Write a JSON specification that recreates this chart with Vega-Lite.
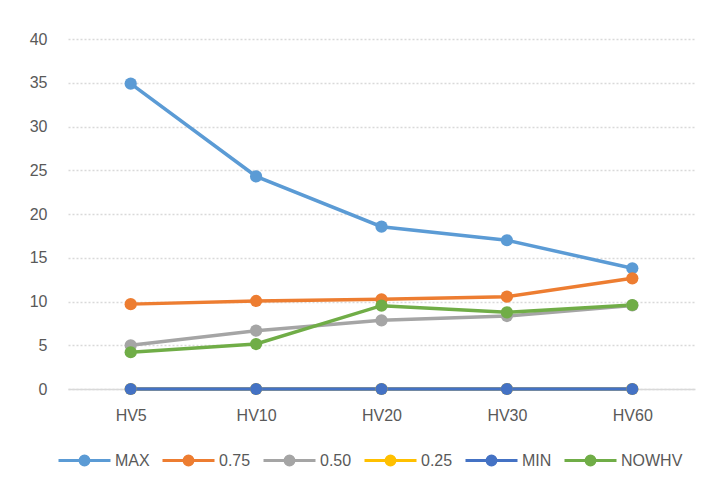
{
  "$schema": "https://vega.github.io/schema/vega-lite/v6.json",
  "autosize": "none",
  "width": 627,
  "height": 350,
  "padding": {"left": 68, "top": 39, "right": 23, "bottom": 100},
  "background": "white",
  "config": {
    "view": {"stroke": null},
    "font": "Liberation Sans"
  },
  "data": {
    "values": [
      {"series": "MAX", "cat": "HV5", "v": 34.9},
      {"series": "MAX", "cat": "HV10", "v": 24.3},
      {"series": "MAX", "cat": "HV20", "v": 18.55},
      {"series": "MAX", "cat": "HV30", "v": 17.0},
      {"series": "MAX", "cat": "HV60", "v": 13.8},
      {"series": "0.75", "cat": "HV5", "v": 9.7},
      {"series": "0.75", "cat": "HV10", "v": 10.06},
      {"series": "0.75", "cat": "HV20", "v": 10.25},
      {"series": "0.75", "cat": "HV30", "v": 10.55},
      {"series": "0.75", "cat": "HV60", "v": 12.65},
      {"series": "0.50", "cat": "HV5", "v": 5.0},
      {"series": "0.50", "cat": "HV10", "v": 6.67},
      {"series": "0.50", "cat": "HV20", "v": 7.85},
      {"series": "0.50", "cat": "HV30", "v": 8.34},
      {"series": "0.50", "cat": "HV60", "v": 9.55},
      {"series": "0.25", "cat": "HV5", "v": 0},
      {"series": "0.25", "cat": "HV10", "v": 0},
      {"series": "0.25", "cat": "HV20", "v": 0},
      {"series": "0.25", "cat": "HV30", "v": 0},
      {"series": "0.25", "cat": "HV60", "v": 0},
      {"series": "MIN", "cat": "HV5", "v": 0},
      {"series": "MIN", "cat": "HV10", "v": 0},
      {"series": "MIN", "cat": "HV20", "v": 0},
      {"series": "MIN", "cat": "HV30", "v": 0},
      {"series": "MIN", "cat": "HV60", "v": 0},
      {"series": "NOWHV", "cat": "HV5", "v": 4.2},
      {"series": "NOWHV", "cat": "HV10", "v": 5.14},
      {"series": "NOWHV", "cat": "HV20", "v": 9.52},
      {"series": "NOWHV", "cat": "HV30", "v": 8.76},
      {"series": "NOWHV", "cat": "HV60", "v": 9.6}
    ]
  },
  "mark": {
    "type": "line",
    "strokeWidth": 3.5,
    "point": {"filled": true, "size": 150, "opacity": 1}
  },
  "encoding": {
    "x": {
      "field": "cat",
      "type": "ordinal",
      "sort": ["HV5", "HV10", "HV20", "HV30", "HV60"],
      "scale": {"type": "point", "padding": 0.5},
      "axis": {
        "title": null,
        "labelAngle": 0,
        "ticks": false,
        "domainColor": "#D9D9D9",
        "domainWidth": 1.5,
        "labelPadding": 18,
        "labelFontSize": 16,
        "labelColor": "#595959",
        "labelFont": "Liberation Sans"
      }
    },
    "y": {
      "field": "v",
      "type": "quantitative",
      "scale": {"domain": [0, 40], "nice": false},
      "axis": {
        "title": null,
        "values": [0, 5, 10, 15, 20, 25, 30, 35, 40],
        "domain": false,
        "ticks": false,
        "gridColor": "#D9D9D9",
        "gridDash": [2, 2],
        "gridWidth": 1.5,
        "labelPadding": 21,
        "labelFontSize": 16,
        "labelColor": "#595959",
        "labelFont": "Liberation Sans"
      }
    },
    "color": {
      "field": "series",
      "type": "nominal",
      "sort": ["MAX", "0.75", "0.50", "0.25", "MIN", "NOWHV"],
      "scale": {
        "domain": ["MAX", "0.75", "0.50", "0.25", "MIN", "NOWHV"],
        "range": ["#5B9BD5", "#ED7D31", "#A5A5A5", "#FFC000", "#4472C4", "#70AD47"]
      },
      "legend": {
        "title": null,
        "orient": "none",
        "direction": "horizontal",
        "legendX": -11,
        "legendY": 394,
        "gridAlign": "each",
        "symbolType": "M-1,0H1M0.17,0A0.17,0.17 0 1,1 -0.17,0A0.17,0.17 0 1,1 0.17,0",
        "symbolSize": 2704,
        "symbolStrokeWidth": 3,
        "symbolOpacity": 1,
        "labelFontSize": 16,
        "labelColor": "#595959",
        "labelFont": "Liberation Sans",
        "labelOffset": 3,
        "columnPadding": 6
      }
    }
  }
}
